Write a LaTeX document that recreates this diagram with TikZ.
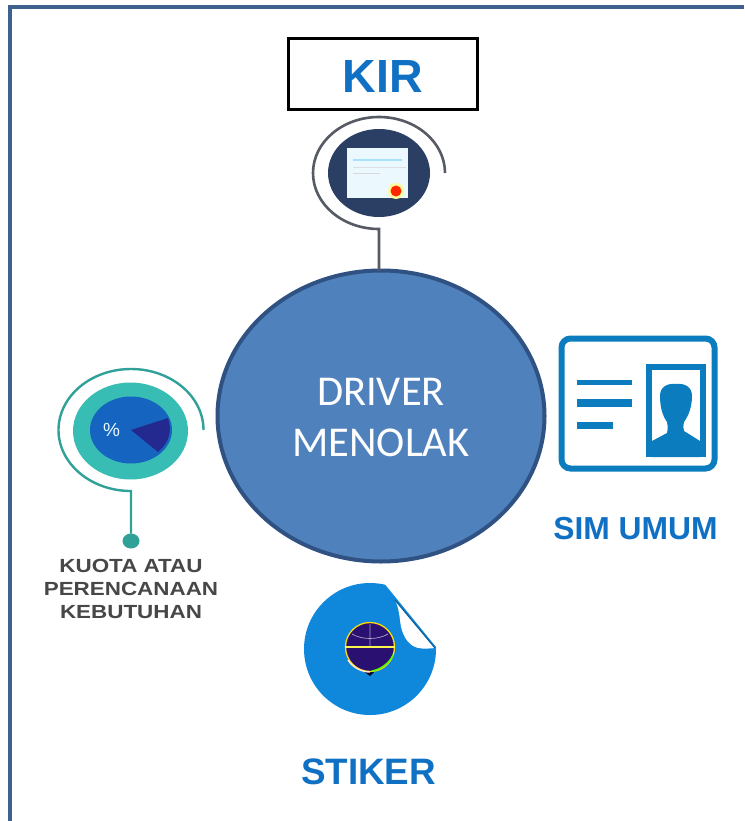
\documentclass[tikz,border=0pt]{standalone}
\usepackage{fontspec}
\setmainfont{Liberation Sans}
\newfontfamily\calfont{Carlito}
\usetikzlibrary{shapes.geometric}
\definecolor{frameblue}{HTML}{3F6190}
\definecolor{hubfill}{HTML}{4F81BD}
\definecolor{hubedge}{HTML}{2F5282}
\definecolor{labelblue}{HTML}{1070C4}
\definecolor{navy}{HTML}{2A3F63}
\definecolor{wire}{HTML}{555A63}
\definecolor{tealc}{HTML}{38BDB4}
\definecolor{pieblue}{HTML}{1565C0}
\definecolor{piedark}{HTML}{23298F}
\definecolor{simblue}{HTML}{0B7DBE}
\definecolor{stickerblue}{HTML}{0F88DC}
\definecolor{globe}{HTML}{2A1070}
\tikzset{
  blob/.style={ellipse,inner sep=0pt,outer sep=0pt},
  biglabel/.style={font=\bfseries\fontsize{#1}{#1}\selectfont,text=labelblue,inner sep=0pt},
  smalllabel/.style={font=\bfseries\fontsize{19}{23}\selectfont,text=black!72,align=center,inner sep=0pt},
  hubtext/.style={font=\calfont\fontsize{42.5}{51}\selectfont,text=white,align=center,inner sep=0pt},
  wireline/.style={draw=wire,line width=2.6pt},
  tealline/.style={draw=tealc!85!black,line width=2.4pt}
}
\begin{document}
\begin{tikzpicture}[x=1pt,y=-1pt]
\useasboundingbox (0,0) rectangle (744,821);
\fill[white] (0,0) rectangle (744,821);
% frame
\draw[frameblue,line width=4pt] (10,821) -- (10,7) -- (744,7);
% hub
\node[blob,draw=hubedge,fill=hubfill,line width=4pt,minimum width=327pt,minimum height=291pt] (hub) at (381,416) {};
\node[hubtext] (hubtxt) at (381,418) {DRIVER\\MENOLAK};
% KIR
\node[draw=black,line width=2.4pt,minimum width=189pt,minimum height=71pt,inner sep=0pt] (kirbox) at (383,74) {};
\node[biglabel=46.5] (kirtxt) at (383,77) {KIR};
\node[blob,fill=navy,minimum width=102pt,minimum height=88pt] (kiricon) at (379,173) {};
\node[fill=white!92!cyan,minimum width=61pt,minimum height=50pt,inner sep=0pt] (paper) at (377.5,173) {};
\draw[cyan!35,line width=1.2pt] (353,160) -- (402,160);
\draw[cyan!15!gray!30,line width=1pt] (353,168) -- (406,168);
\draw[gray!30,line width=1pt] (353,174) -- (380,174);
\node[circle,fill=yellow!40,minimum size=16pt,inner sep=0pt] (sealglow) at (396,191) {};
\node[circle,fill=red!70!orange,minimum size=11pt,inner sep=0pt] (seal) at (396,191) {};
\coordinate (kirstart) at (445,173);
\coordinate (kirjoin) at (379,229);
\draw[wireline] (kirstart) arc[start angle=0,end angle=-270,x radius=66,y radius=56] -- (hub.north -| kirjoin);
% Kuota
\node[blob,fill=tealc,minimum width=115pt,minimum height=97pt] (kuotaouter) at (130.5,431) {};
\node[blob,fill=pieblue,minimum width=82pt,minimum height=67pt] (kuotainner) at (131,430) {};
\fill[piedark] (kuotainner.center) -- (168,418) .. controls (172,430) and (170,442) .. (158,452) -- cycle;
\node[font=\fontsize{19}{19}\selectfont,text=white!90!cyan,inner sep=0pt] (pct) at (111.5,430) {\%};
\coordinate (kuotastart) at (203.5,430);
\node[blob,fill=tealc!85!black,minimum width=17pt,minimum height=15pt] (kuotadot) at (131,541) {};
\draw[tealline] (kuotastart) arc[start angle=0,end angle=-270,x radius=72.5,y radius=61] -- (kuotadot);
\node[smalllabel] (kuotatxt) at (131,588.5) {\scalebox{1.18}[1]{KUOTA ATAU}\\\scalebox{1.18}[1]{PERENCANAAN}\\\scalebox{1.18}[1]{KEBUTUHAN}};
% SIM card
\node[draw=simblue,line width=6pt,rounded corners=9pt,minimum width=153pt,minimum height=130pt,inner sep=0pt] (simcard) at (638,403.5) {};
\fill[simblue] (646,364) rectangle (706,457);
\fill[white] (652,370) rectangle (700,446);
\fill[simblue] (652,457) -- (652,441) -- (667,433) .. controls (668,428) and (668,425) .. (667,422)
  .. controls (662,415) and (660,406) .. (660,396) .. controls (660,387) and (667,383) .. (676,384)
  .. controls (685,383) and (692,387) .. (692,396) .. controls (692,406) and (689,415) .. (684,422)
  .. controls (683,425) and (683,428) .. (684,431) -- (700,441) -- (700,457) -- cycle;
\fill[simblue] (577,379.5) rectangle (632,385);
\fill[simblue] (577,399) rectangle (632,407);
\fill[simblue] (577,421.5) rectangle (613,428.5);
\node[biglabel=31.8] (simtxt) at (635.5,529) {SIM UMUM};
% Sticker
\node[circle,fill=stickerblue,minimum size=132pt,inner sep=0pt,outer sep=0pt] (sticker) at (370,649) {};
\fill[white] (384,583) -- (437,648) -- (445,648) -- (445,570) -- (384,570) -- cycle;
\fill[white] (395,600) -- (435,648) .. controls (425,649) and (418,649) .. (413,646)
  .. controls (404,640) and (401,630) .. (400,620) .. controls (399,612) and (398,606) .. (395,600) -- cycle;
\draw[stickerblue!70!black,line width=1.2pt] (395,600) -- (435,648);
\fill[black!70!globe] (355,665) -- (370,676) -- (378,668) -- cycle;
\node[circle,fill=globe,draw=yellow!80!orange,line width=1.3pt,minimum size=49pt,inner sep=0pt] (logo) at (370,647) {};
\draw[yellow!70!white,line width=1.8pt] (logo.west) -- (logo.east);
\draw[white!60!globe,line width=.7pt] (370,624) -- (370,646) (352,634) .. controls (362,640) and (378,640) .. (388,634);
\draw[white!80!orange,line width=1.4pt] (348,660) .. controls (353,668) and (362,672) .. (370,672);
\draw[green!70!yellow,line width=1.4pt] (372,671) .. controls (382,669) and (390,662) .. (393,655);
\node[biglabel=36.8] (stikertxt) at (368.5,772) {STIKER};
\end{tikzpicture}
\end{document}
